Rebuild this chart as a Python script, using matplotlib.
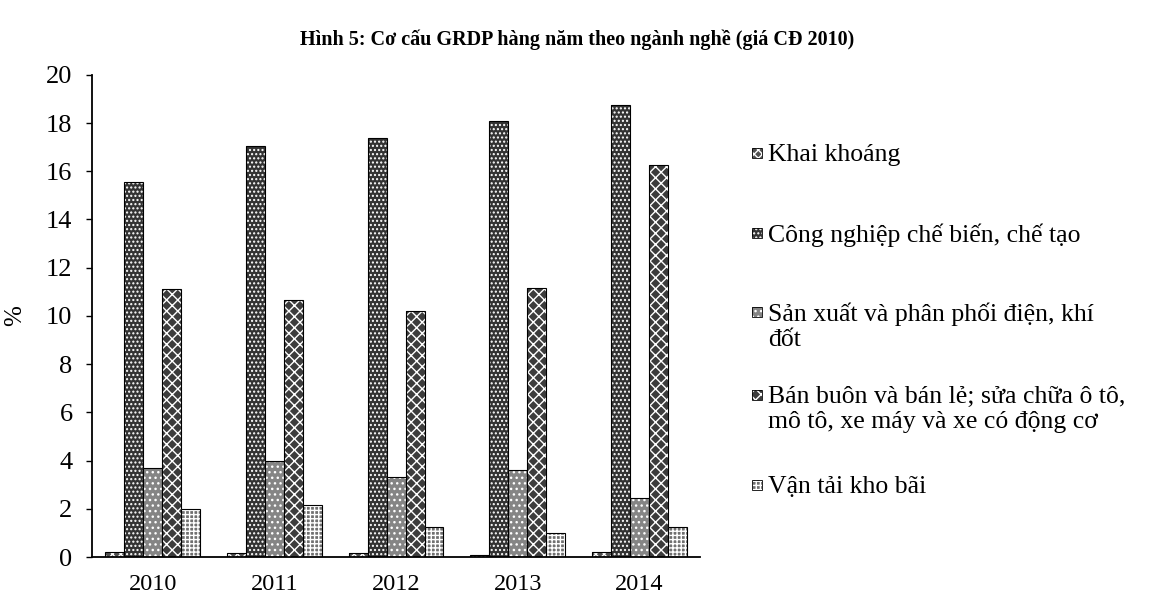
import matplotlib
matplotlib.use('Agg')
import matplotlib.pyplot as plt
from matplotlib.patches import Rectangle
import numpy as np

plt.rcParams['font.family'] = ['Liberation Serif', 'DejaVu Serif']
plt.rcParams['hatch.linewidth'] = 1.0

# data
years = ['2010', '2011', '2012', '2013', '2014']
series = [
    'Khai khoáng',
    'Công nghiệp chế biến, chế tạo',
    'Sản xuất và phân phối điện, khí\nđốt',
    'Bán buôn và bán lẻ; sửa chữa ô tô,\nmô tô, xe máy và xe có động cơ',
    'Vận tải kho bãi',
]
khai_khoang = [0.2, 0.15, 0.15, 0.1, 0.2]
cong_nghiep = [15.55, 17.05, 17.4, 18.1, 18.75]
dien_khi = [3.7, 4.0, 3.3, 3.6, 2.45]
ban_buon = [11.1, 10.65, 10.2, 11.15, 16.25]
van_tai = [2.0, 2.15, 1.25, 1.0, 1.25]
values = [khai_khoang, cong_nghiep, dien_khi, ban_buon, van_tai]

colors = ['#505050', '#333333', '#858585', '#3c3c3c', '#707070']
hatches = ['xxxx', '....', '...', 'xxx', '++++']

fig = plt.figure(figsize=(11.54, 6.05), dpi=100)
ax = fig.add_axes([0.0797, 0.0793, 0.527, 0.797])

x = np.arange(len(years))
w = 0.156
for i, vals in enumerate(values):
    pos = x + (i - 2) * w
    ax.bar(pos, vals, w, color=colors[i], hatch=hatches[i], edgecolor='white', linewidth=0)
    ax.bar(pos, vals, w, fill=False, edgecolor='black', linewidth=0.8)

ax.set_xlim(-0.5, len(years) - 0.5)
ax.set_ylim(0, 20)
ax.set_yticks(range(0, 21, 2))
ax.set_xticks(x)
ax.set_xticklabels(years)
ax.spines['top'].set_visible(False)
ax.spines['right'].set_visible(False)
ax.spines['left'].set_linewidth(1.3)
ax.spines['bottom'].set_linewidth(1.3)
ax.tick_params(axis='y', length=4, width=1, pad=10, labelsize=19)
ax.tick_params(axis='x', length=0, pad=12, labelsize=17.5)
ax.set_ylabel('%', fontsize=18, labelpad=14)

fig.text(0.5, 0.935, 'Hình 5: Cơ cấu GRDP hàng năm theo ngành nghề (giá CĐ 2010)',
         ha='center', va='center', fontsize=14.5, fontweight='bold')

# manual legend, marker next to the first line of each label
tops = [144, 224, 303, 386, 476]
for i, label in enumerate(series):
    yfig = 1 - tops[i] / 605
    sq = 10 / 605
    fig.patches.append(Rectangle((752 / 1154, yfig - 0.023), 10 / 1154, sq,
                                 transform=fig.transFigure, facecolor=colors[i],
                                 hatch=hatches[i], edgecolor='white', linewidth=0))
    fig.patches.append(Rectangle((752 / 1154, yfig - 0.023), 10 / 1154, sq,
                                 transform=fig.transFigure, fill=False,
                                 edgecolor='black', linewidth=0.6))
    fig.text(768 / 1154, yfig, label, ha='left', va='top', fontsize=18.5,
             linespacing=1.15)

fig.savefig('out.png', dpi=100)
